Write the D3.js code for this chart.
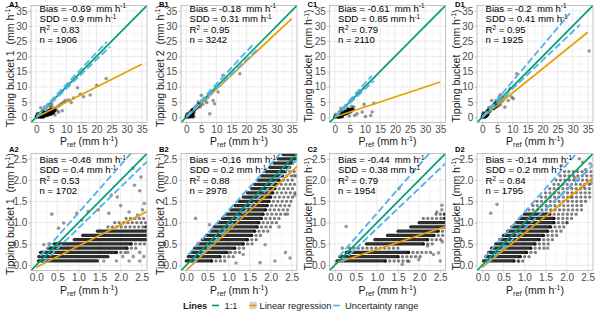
<!DOCTYPE html>
<html>
<head>
<meta charset="utf-8">
<script src="https://cdn.jsdelivr.net/npm/d3@7"></script>
<style>
  body { margin: 0; background: #fff; }
  svg { display: block; font-family: "Liberation Sans", Arial, sans-serif; }
  text { white-space: pre; }
</style>
</head>
<body>
<svg id="chart" width="600" height="316"></svg>
<script>
// ---- data ----
const panelIds = ["A", "B", "C", "D"];
const yTitles = ["Tipping bucket 1  (", "Tipping bucket 2  (", "Tipping bucket  (", "Tipping bucket  ("];

const biasRow1 = ["-0.69", "-0.18", "-0.61", "-0.2"];
const sddRow1 = ["0.9", "0.31", "0.85", "0.41"];
const r2Row1 = ["0.83", "0.95", "0.79", "0.95"];
const nRow1 = ["1906", "3242", "2110", "1925"];
const biasRow2 = ["-0.48", "-0.16", "-0.44", "-0.14"];
const sddRow2 = ["0.4", "0.2", "0.38", "0.2"];
const r2Row2 = ["0.53", "0.88", "0.79", "0.84"];
const nRow2 = ["1702", "2978", "1954", "1795"];

const row1Ticks = [0, 5, 10, 15, 20, 25, 30, 35];
const row1Minor = [2.5, 7.5, 12.5, 17.5, 22.5, 27.5, 32.5];
const row2Ticks = [0, 0.5, 1, 1.5, 2, 2.5];
const row2Minor = [0.25, 0.75, 1.25, 1.75, 2.25];

// dense runs of overlapping points: [y, xFrom, xTo]
const denseA = [[0.1,0.05,1.45],[0.2,0.06,1.7],[0.3,0.1,1.9],[0.4,0.28,2.15],[0.5,0.42,2.25],[0.6,0.9,3.4],
  [0.7,1.1,3.8],[0.8,1.45,4.0],[0.9,2.6,4.4],[1.0,2.7,4.7],[1.1,2.8,4.9],[1.2,2.9,5.1],[1.4,3.1,5.4],
  [1.6,3.4,5.6],[1.8,3.7,5.8],[2.0,4.0,6.0],[2.3,4.4,6.1],[2.6,4.8,6.2]];
const sparseA = [[0.3,1.9,2.2],[0.4,2.15,2.4],[0.5,2.25,2.6],[0.9,1.7,2.6],[1.0,1.86,2.6],[1.1,2.13,2.6]];
const pointsA = [[0.18,0.48],[0.3,0.5],[0.53,0.87],[0.65,0.99],[0.37,1.2],[0.96,1.22],[1.08,1.06],[1.23,1.26],
  [1.47,1.3],[1.78,1.65],[1.92,1.6],[2.29,2.28],[2.48,2.07],[2.33,1.88],[2.45,1.75],[2.52,1.3],[2.4,1.18],
  [2.2,1.25],[2.56,1.45],[2.0,1.4],[1.72,1.22],[1.6,0.1],[1.9,0.1],[2.2,0.1],[2.45,0.1],[2.17,0.3],[2.45,0.3],
  [2.05,0.2],[2.3,0.2],[2.55,0.2],
  [1.5,3.1],[2.8,3.3],[3.3,2.9],[3.8,4.1],[4.6,3.4],[5.2,3.7],[6.3,3.0],[6.9,2.2],[7.2,3.6],[7.8,4.0],
  [8.4,4.4],[9.0,4.9],[9.6,5.5],[10.7,5.6],[11.6,4.8],[12.4,6.3],[13.7,9.7],[14.6,7.5],[15.7,6.7],[17.9,7.3],
  [20.1,10.5],[23.2,12.7],[4.6,0.9],[5.6,1.3],[6.2,0.7],[7.4,1.6],[8.6,2.1],[5.0,4.6]];
const regA = [-0.05, 0.5];
const uncUpperA = [[0.1,0.22],[2.2,2.58],[23.4,24.8]];
const uncLowerA = [[0.15,0.05],[2.41,2.23],[24.5,23.2]];

const denseB = [[0.1,0.0,0.6],[0.2,0.05,0.8],[0.3,0.12,0.95],[0.4,0.2,1.15],[0.5,0.28,1.35],[0.6,0.38,1.45],
  [0.7,0.48,1.55],[0.8,0.58,1.62],[0.9,0.66,1.68],[1.0,0.76,1.72],[1.1,0.86,1.78],[1.2,0.95,1.82],[1.3,1.05,1.88],
  [1.4,1.15,1.92],[1.5,1.25,1.96],[1.6,1.35,2.0],[1.7,1.45,2.05],[1.8,1.55,2.1],[1.9,1.62,2.15],[2.0,1.7,2.2],
  [2.1,1.78,2.28],[2.2,1.88,2.35],[2.3,1.98,2.45],[2.4,2.08,2.52],[2.5,2.18,2.6],[2.6,2.3,2.9],[2.8,2.5,3.1],
  [3.0,2.7,3.4],[3.3,3.0,3.7],[3.6,3.3,4.0],[4.0,3.7,4.4],[4.4,4.1,4.8]];
const sparseB = [[0.1,0.6,1.0],[0.2,0.8,1.15],[0.3,0.95,1.3],[0.4,1.15,1.45],[0.5,1.35,1.6],[0.6,1.45,1.75],
  [0.7,1.55,1.85],[0.8,1.62,1.95],[0.9,1.68,2.05],[1.0,1.72,2.15],[1.1,1.78,2.25],[1.2,1.82,2.35],[1.3,1.88,2.45],
  [1.4,1.92,2.5],[1.5,1.96,2.55],[1.6,2.0,2.6],[1.7,2.05,2.6],[1.8,2.1,2.6],[1.9,2.15,2.6],[2.0,2.2,2.6],
  [2.1,2.28,2.6],[2.2,2.35,2.6]];
const pointsB = [[0.22,1.1],[0.55,0.95],[2.46,0.17],[1.87,0.48],[1.18,0.05],[1.35,0.25],[1.75,0.06],[2.35,0.3],
  [2.2,0.9],[2.4,1.2],[2.58,1.65],[2.5,2.45],[2.55,2.1],[1.0,0.3],[2.1,0.1],
  [7.2,6.6],[8.3,7.8],[8.9,5.5],[9.4,4.4],[7.8,1.1],[10.6,8.3],[12.2,13.8],[17.8,14.3],[6.1,5.5],[5.0,7.2],
  [6.5,6.0],[5.5,4.2],[4.6,3.4],[6.8,4.8],[3.9,5.0]];
const regB = [-0.12, 0.93];
const uncUpperB = [[0.05,0.25],[2.19,2.58],[22.5,24.3]];
const uncLowerB = [[0.15,0.05],[2.6,2.45],[23.5,22.2]];

const denseC = [[0.1,0.05,1.2],[0.2,0.12,1.5],[0.3,0.27,1.75],[0.5,0.75,2.1],[0.6,0.95,2.2],[0.7,1.25,2.35],
  [0.8,1.5,2.45],[0.9,1.8,2.65],[1.0,2.0,2.9],[1.1,2.6,3.3],[1.2,2.6,3.6],[1.4,2.9,4.2],[1.6,3.2,4.6],
  [1.8,3.5,5.0],[2.0,3.8,5.4],[2.3,4.2,5.8],[2.6,4.6,6.0]];
const sparseC = [[0.1,1.2,1.75],[0.2,1.5,2.1],[0.3,1.75,2.35],[0.4,0.35,1.6],[0.5,2.1,2.4],[0.6,2.2,2.55],
  [0.7,2.35,2.6],[0.8,2.45,2.6],[1.1,2.1,2.6],[1.2,2.4,2.6]];
const pointsC = [[0.27,0.91],[1.52,1.8],[2.54,1.41],[2.54,1.3],[2.42,1.25],[2.34,0.25],[2.46,0.29],[1.76,0.09],
  [1.99,0.13],[1.6,0.02],[2.2,0.45],[2.5,0.1],[0.18,0.4],[2.55,0.55],
  [3.2,1.5],[3.6,0.9],[4.3,1.4],[4.9,2.2],[5.3,1.7],[5.9,2.6],[6.3,3.3],[4.2,3.0],[5.6,3.6],[7.4,1.1],
  [9.1,1.7],[10.2,0.2],[11.9,0.55],[12.4,1.7],[9.7,4.2],[13.0,4.6],[6.6,0.6],[4.8,0.4],[3.0,2.4],[2.0,2.9]];
const regC = [0.04, 0.33];
const uncUpperC = [[0.1,0.2],[2.2,2.58],[12.3,13.6]];
const uncLowerC = [[0.15,0.06],[2.45,2.23],[13.0,12.0]];

const denseD = [[0.1,0.03,0.75],[0.2,0.08,0.9],[0.3,0.15,1.05],[0.4,0.22,1.15],[0.5,0.32,1.25],[0.6,0.42,1.35],
  [0.7,0.5,1.45],[0.8,0.6,1.55],[0.9,0.7,1.62],[1.0,0.8,1.7],[1.1,0.9,1.7],[1.2,1.0,1.6],
  [2.8,2.6,3.6],[3.0,2.8,3.9],[3.3,3.0,4.3],[3.6,3.3,4.6],[4.0,3.7,5.0],[4.5,4.2,5.5],[5.0,4.6,6.0]];
const sparseD = [[0.1,0.75,1.0],[0.2,0.9,1.15],[0.3,1.05,1.35],[0.4,1.15,1.5],[0.5,1.25,1.6],[0.6,1.35,1.7],
  [0.7,1.45,1.8],[0.8,1.55,1.9],[0.9,1.62,2.0],[1.0,1.7,2.1],[1.1,1.7,2.2],[1.2,1.6,2.3],[1.3,1.1,2.4],
  [1.4,1.2,2.45],[1.5,1.3,2.5],[1.6,1.4,2.55],[1.7,1.5,2.6],[1.8,1.6,2.6],[1.9,1.7,2.6],[2.0,1.75,2.6],
  [2.1,1.85,2.6],[2.2,1.95,2.6]];
const pointsD = [[0.35,1.43],[0.2,1.22],[0.86,0.09],[1.88,2.34],[2.3,2.5],[2.38,2.42],[2.56,2.38],[2.45,2.25],
  [2.58,1.92],[2.4,1.85],[2.1,1.6],[2.2,2.05],[1.55,0.4],[2.0,1.0],
  [3.2,3.3],[3.6,2.8],[4.2,3.1],[5.2,3.6],[6.0,4.1],[6.4,5.2],[6.9,5.5],[7.5,3.3],[8.6,5.5],[9.7,6.6],
  [10.3,6.1],[9.2,9.4],[11.4,14.3],[35.5,21.8],[3.1,5.5],[4.6,5.5],[5.6,6.6],[8.0,7.0],[6.0,7.4],[7.2,6.4],[2.2,3.2]];
const regD = [-0.05, 0.8];
const uncUpperD = [[0.05,0.18],[2.19,2.58],[29.1,34.2]];
const uncLowerD = [[0.1,0.04],[2.5,2.23],[32.4,30.4]];

const regRange = [0, 35];
const legendLabels = ["1:1", "Linear regression", "Uncertainty range"];

// ---- layout ----
const svg = d3.select("#chart");
const FONT = "'Liberation Sans', Arial, sans-serif";
const GREEN = "#009E73", ORANGE = "#E69F00", BLUE = "#56B4E9";
const panelW = 116, panelH = 117;
const colLeft = [31, 181, 329.5, 477];
const rowTop = [5.5, 153.5];

const panels = {
  A: { dense: denseA, sparse: sparseA, points: pointsA, reg: regA, up: uncUpperA, low: uncLowerA },
  B: { dense: denseB, sparse: sparseB, points: pointsB, reg: regB, up: uncUpperB, low: uncLowerB },
  C: { dense: denseC, sparse: sparseC, points: pointsC, reg: regC, up: uncUpperC, low: uncLowerC },
  D: { dense: denseD, sparse: sparseD, points: pointsD, reg: regD, up: uncUpperD, low: uncLowerD }
};
const rows = [
  { domain: [-1.75, 36.75], ticks: row1Ticks, minor: row1Minor, fmt: d3.format("d"),
    bias: biasRow1, sdd: sddRow1, r2: r2Row1, n: nRow1, textTop: 11.5, lineGap: 10.6, xTitleY: 144.5 },
  { domain: [-0.125, 2.625], ticks: row2Ticks, minor: row2Minor, fmt: d3.format(".1f"),
    bias: biasRow2, sdd: sddRow2, r2: r2Row2, n: nRow2, textTop: 163, lineGap: 10.4, xTitleY: 293.5 }
];

function sup(t, txt, fs) {
  t.append("tspan").attr("dy", -0.32 * fs).attr("font-size", fs * 0.66).text(txt);
}
function unitText(t, lead, tail, fs) {
  t.append("tspan").text(lead + "mm h");
  sup(t, "-1", fs);
  t.append("tspan").attr("dy", 0.32 * fs).text(tail);
}

rows.forEach((row, ri) => {
  panelIds.forEach((id, ci) => {
    const p = panels[id];
    const left = colLeft[ci], top = rowTop[ri];
    const x = d3.scaleLinear().domain(row.domain).range([left, left + panelW]);
    const y = d3.scaleLinear().domain(row.domain).range([top + panelH, top]);
    const g = svg.append("g");

    const clipId = `clip-${id}${ri}`;
    g.append("clipPath").attr("id", clipId).append("rect")
      .attr("x", left).attr("y", top).attr("width", panelW).attr("height", panelH);

    // grid
    g.selectAll(".minx").data(row.minor).enter().append("line")
      .attr("x1", d => x(d)).attr("x2", d => x(d)).attr("y1", top).attr("y2", top + panelH)
      .attr("stroke", "#efefef").attr("stroke-width", 0.5);
    g.selectAll(".miny").data(row.minor).enter().append("line")
      .attr("y1", d => y(d)).attr("y2", d => y(d)).attr("x1", left).attr("x2", left + panelW)
      .attr("stroke", "#efefef").attr("stroke-width", 0.5);
    g.selectAll(".majx").data(row.ticks).enter().append("line")
      .attr("x1", d => x(d)).attr("x2", d => x(d)).attr("y1", top).attr("y2", top + panelH)
      .attr("stroke", "#e2e2e2").attr("stroke-width", 0.7);
    g.selectAll(".majy").data(row.ticks).enter().append("line")
      .attr("y1", d => y(d)).attr("y2", d => y(d)).attr("x1", left).attr("x2", left + panelW)
      .attr("stroke", "#e2e2e2").attr("stroke-width", 0.7);

    const plot = g.append("g").attr("clip-path", `url(#${clipId})`);

    // points
    plot.selectAll(".dense").data(p.dense).enter().append("line")
      .attr("x1", d => x(d[1])).attr("x2", d => x(d[2]))
      .attr("y1", d => y(d[0])).attr("y2", d => y(d[0]))
      .attr("stroke", "#000").attr("stroke-opacity", 0.82)
      .attr("stroke-width", 3.3).attr("stroke-linecap", "round");
    plot.selectAll(".sparse").data(p.sparse).enter().append("line")
      .attr("x1", d => x(d[1])).attr("x2", d => x(d[2]))
      .attr("y1", d => y(d[0])).attr("y2", d => y(d[0]))
      .attr("stroke", "#000").attr("stroke-opacity", 0.5)
      .attr("stroke-width", 3.4).attr("stroke-linecap", "round")
      .attr("stroke-dasharray", "0,4.4");
    plot.selectAll("circle").data(p.points).enter().append("circle")
      .attr("cx", d => x(d[0])).attr("cy", d => y(d[1])).attr("r", 1.8)
      .attr("fill", "#000").attr("fill-opacity", 0.4);

    // regression
    plot.append("line")
      .attr("x1", x(regRange[0])).attr("y1", y(p.reg[0] + p.reg[1] * regRange[0]))
      .attr("x2", x(regRange[1])).attr("y2", y(p.reg[0] + p.reg[1] * regRange[1]))
      .attr("stroke", ORANGE).attr("stroke-width", 1.7);
    // 1:1
    plot.append("line")
      .attr("x1", x(row.domain[0])).attr("y1", y(row.domain[0]))
      .attr("x2", x(row.domain[1])).attr("y2", y(row.domain[1]))
      .attr("stroke", GREEN).attr("stroke-width", 1.7);
    // uncertainty
    const line = d3.line().x(d => x(d[0])).y(d => y(d[1]));
    [p.up, p.low].forEach(u => {
      plot.append("path").attr("d", line(u)).attr("fill", "none")
        .attr("stroke", BLUE).attr("stroke-width", 1.9).attr("stroke-dasharray", "7,3");
    });

    // border
    g.append("rect").attr("x", left).attr("y", top).attr("width", panelW).attr("height", panelH)
      .attr("fill", "none").attr("stroke", "#b3b3b3").attr("stroke-width", 0.8);

    // axes
    const styleAxis = a => {
      a.select(".domain").remove();
      a.selectAll("line").attr("stroke", "#b3b3b3").attr("stroke-width", 0.7);
      a.selectAll("text").attr("fill", "#4d4d4d");
    };
    g.append("g").attr("transform", `translate(0,${top + panelH})`)
      .attr("font-family", FONT).attr("font-size", 10)
      .call(d3.axisBottom(x).tickValues(row.ticks).tickFormat(row.fmt).tickSize(2.5).tickPadding(0.5))
      .call(styleAxis);
    g.append("g").attr("transform", `translate(${left},0)`)
      .attr("font-family", FONT).attr("font-size", 10)
      .call(d3.axisLeft(y).tickValues(row.ticks).tickFormat(row.fmt).tickSize(2.5).tickPadding(1.2))
      .call(styleAxis);

    // axis titles
    const tfs = 10.5;
    const xt = g.append("text").attr("x", left + panelW / 2).attr("y", row.xTitleY)
      .attr("text-anchor", "middle").attr("font-size", tfs).attr("fill", "#1a1a1a");
    xt.append("tspan").text("P");
    xt.append("tspan").attr("dy", 2.3).attr("font-size", tfs * 0.7).text("ref");
    xt.append("tspan").attr("dy", -2.3).text(" (");
    unitText(xt, "", ")", tfs);

    const yt = g.append("text")
      .attr("transform", `translate(${left - 17.5},${top + panelH / 2 + 2}) rotate(-90)`)
      .attr("text-anchor", "middle").attr("font-size", tfs).attr("fill", "#1a1a1a");
    unitText(yt, yTitles[ci], ")", tfs);

    // tag
    g.append("text").attr("x", left - 22).attr("y", ri === 0 ? 7 : 152)
      .attr("font-size", 7.5).attr("font-weight", "bold").attr("fill", "#000")
      .text(id + (ri + 1));

    // stats annotation
    const afs = 9.6, ax = left + 8.5;
    const t1 = g.append("text").attr("x", ax).attr("y", row.textTop).attr("font-size", afs);
    unitText(t1, `Bias = ${row.bias[ci]}  `, "", afs);
    const t2 = g.append("text").attr("x", ax).attr("y", row.textTop + row.lineGap).attr("font-size", afs);
    unitText(t2, `SDD = ${row.sdd[ci]} `, "", afs);
    const t3 = g.append("text").attr("x", ax).attr("y", row.textTop + 2 * row.lineGap).attr("font-size", afs);
    t3.append("tspan").text("R");
    sup(t3, "2", afs);
    t3.append("tspan").attr("dy", 0.32 * afs).text(` = ${row.r2[ci]}`);
    g.append("text").attr("x", ax).attr("y", row.textTop + 3 * row.lineGap).attr("font-size", afs)
      .text(`n = ${row.n[ci]}`);
  });
});

// ---- legend ----
const lg = svg.append("g").attr("font-size", 9.3).attr("fill", "#1a1a1a");
const ly = 305.5;
lg.append("text").attr("x", 183).attr("y", ly + 3.3).attr("font-weight", "bold").text("Lines");
lg.append("line").attr("x1", 212).attr("x2", 219).attr("y1", ly).attr("y2", ly)
  .attr("stroke", GREEN).attr("stroke-width", 1.7);
lg.append("text").attr("x", 224.5).attr("y", ly + 3.3).text(legendLabels[0]);
lg.append("rect").attr("x", 249.5).attr("y", ly - 3.8).attr("width", 7).attr("height", 7.6).attr("fill", "#d4d4d4");
lg.append("line").attr("x1", 249.5).attr("x2", 256.5).attr("y1", ly).attr("y2", ly)
  .attr("stroke", ORANGE).attr("stroke-width", 1.7);
lg.append("text").attr("x", 259.5).attr("y", ly + 3.3).text(legendLabels[1]);
lg.append("line").attr("x1", 333).attr("x2", 340).attr("y1", ly).attr("y2", ly)
  .attr("stroke", BLUE).attr("stroke-width", 1.7);
lg.append("text").attr("x", 345).attr("y", ly + 3.3).text(legendLabels[2]);
</script>
</body>
</html>
